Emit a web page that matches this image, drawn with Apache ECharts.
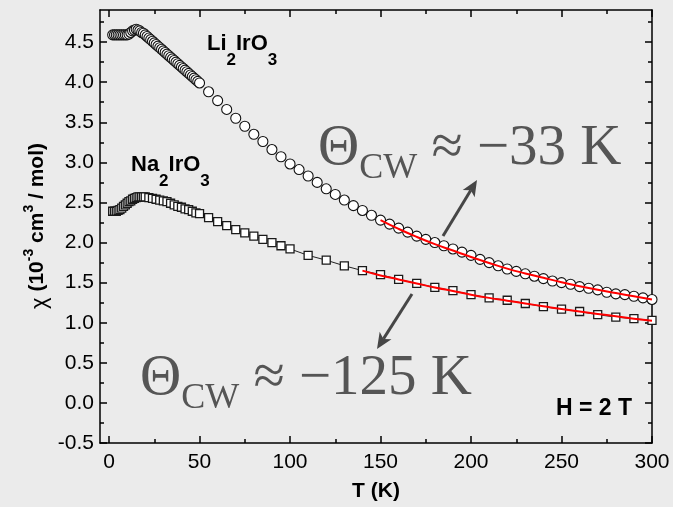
<!DOCTYPE html>
<html><head><meta charset="utf-8">
<script src="https://cdn.jsdelivr.net/npm/echarts@6/dist/echarts.min.js"></script>
<style>html,body{margin:0;padding:0;background:#ebebeb}#c{width:673px;height:507px}</style>
</head><body><div id="c"></div>
<script>
// ---- tick values ----
const xMajor = [0, 50, 100, 150, 200, 250, 300];
const xMinor = [25, 75, 125, 175, 225, 275];
const yMajor = [-0.5, 0, 0.5, 1, 1.5, 2, 2.5, 3, 3.5, 4, 4.5];
const yMinor = [-0.25, 0.25, 0.75, 1.25, 1.75, 2.25, 2.75, 3.25, 3.75, 4.25, 4.75];

// ---- Li2IrO3 (circles) ----
const liT = [2,3,4,5,6,7,8,9,10,11,12,13,14,15,16,17,18,19,20,21,22,23,24,25,26,27,28,29,30,
  31,32,33,34,35,36,37,38,39,40,41,42,43,44,45,46,47,48,49,50,
  55,60,65,70,75,80,85,90,95,100,105,110,115,120,125,130,135,140,145,150,
  155,160,165,170,175,180,185,190,195,200,205,210,215,220,225,230,235,240,245,250,
  255,260,265,270,275,280,285,290,295,300];
const liChi = [4.59,4.59,4.59,4.59,4.59,4.59,4.59,4.59,4.59,4.60,4.62,4.64,4.65,4.66,4.65,4.64,4.62,4.61,4.59,
  4.57,4.55,4.53,4.51,4.49,4.47,4.45,4.43,4.41,4.39,4.37,4.35,4.33,4.31,4.29,4.27,4.25,4.23,4.21,4.19,
  4.17,4.15,4.13,4.11,4.09,4.07,4.05,4.03,4.01,3.99,
  3.88,3.77,3.66,3.55,3.45,3.35,3.26,3.16,3.07,2.98,2.91,2.83,2.75,2.67,2.60,2.53,2.46,2.40,2.34,2.28,
  2.23,2.18,2.13,2.08,2.04,2.00,1.96,1.92,1.88,1.84,1.79,1.75,1.71,1.67,1.64,1.61,1.58,1.55,1.52,1.50,
  1.48,1.45,1.43,1.41,1.38,1.36,1.35,1.33,1.31,1.29];

// ---- Na2IrO3 (squares) ----
const naT = [2,3,4,5,6,7,8,9,10,11,12,13,14,15,16,17,18,19,20,22,24,26,28,30,32,34,36,38,40,42,44,46,48,50,
  55,60,65,70,75,80,85,90,95,100,110,120,130,140,150,160,170,180,190,200,210,220,230,240,250,260,270,280,290,300];
const naChi = [2.39,2.39,2.39,2.40,2.41,2.43,2.45,2.47,2.49,2.51,2.52,2.54,2.55,2.56,2.57,2.57,2.57,2.57,2.57,
  2.56,2.55,2.54,2.53,2.52,2.51,2.49,2.47,2.45,2.44,2.42,2.41,2.39,2.37,2.36,
  2.31,2.26,2.21,2.16,2.12,2.08,2.04,2.00,1.96,1.92,1.84,1.78,1.71,1.65,1.60,1.54,1.49,1.44,1.40,1.35,
  1.31,1.28,1.24,1.20,1.17,1.14,1.10,1.07,1.05,1.03];

// ---- Curie-Weiss fit curves (red) ----
const liFitT = [150,160,170,180,190,200,210,220,230,240,250,260,270,280,290,300];
const liFitChi = [2.28,2.17,2.07,1.98,1.90,1.82,1.745,1.675,1.615,1.56,1.505,1.455,1.41,1.37,1.33,1.29];
const naFitT = [140,150,160,170,180,190,200,210,220,230,240,250,260,270,280,290,300];
const naFitChi = [1.65,1.59,1.54,1.49,1.44,1.395,1.35,1.31,1.275,1.24,1.205,1.17,1.14,1.11,1.08,1.05,1.025];

const pairs = (a, b) => a.map((t, i) => [t, b[i]]);
const SANS = 'Liberation Sans', SERIF = 'Liberation Serif';
const BLK = '#000';

function xAx(pos, vals, len, labels, line) {
  return { type: 'value', position: pos, min: -5, max: 300,
    axisLine: { show: line, onZero: false, lineStyle: { color: BLK, width: 1.5 } },
    axisTick: { show: true, inside: true, length: len, customValues: vals, lineStyle: { color: BLK, width: 1.5 } },
    axisLabel: { show: labels, customValues: vals, color: BLK, fontSize: 21, fontFamily: SANS, margin: 9 },
    splitLine: { show: false } };
}
function yAx(pos, vals, len, labels, line) {
  return { type: 'value', position: pos, min: -0.5, max: 4.9,
    axisLine: { show: line, onZero: false, lineStyle: { color: BLK, width: 1.5 } },
    axisTick: { show: true, inside: true, length: len, customValues: vals, lineStyle: { color: BLK, width: 1.5 } },
    axisLabel: { show: labels, customValues: vals, color: BLK, fontSize: 21, fontFamily: SANS, margin: 6,
      formatter: v => v.toFixed(1) },
    splitLine: { show: false } };
}

function arrow(x1, y1, x2, y2) {
  const dx = x2 - x1, dy = y2 - y1, L = Math.hypot(dx, dy), ux = dx / L, uy = dy / L;
  const hl = 16, hw = 7;
  const bx = x2 - ux * hl, by = y2 - uy * hl;
  const col = '#464646';
  return [
    { type: 'line', shape: { x1, y1, x2: bx + ux * 4, y2: by + uy * 4 }, style: { stroke: col, lineWidth: 3 } },
    { type: 'polygon', shape: { points: [[x2, y2], [bx - uy * hw, by + ux * hw], [bx + ux * 4, by + uy * 4], [bx + uy * hw, by - ux * hw]] },
      style: { fill: col } }
  ];
}

const chemRich = {
  m: { fontSize: 22, fontWeight: 'bold', fontFamily: SANS, lineHeight: 22, verticalAlign: 'top', fill: BLK },
  s: { fontSize: 17, fontWeight: 'bold', fontFamily: SANS, lineHeight: 17, padding: [19, 0, 0, 0], verticalAlign: 'top', fill: BLK }
};
const bigRich = {
  a: { fontSize: 57, fontFamily: SERIF, lineHeight: 57, verticalAlign: 'top', fill: '#555' },
  b: { fontSize: 36, fontFamily: SERIF, lineHeight: 36, padding: [30, 0, 0, 0], verticalAlign: 'top', fill: '#555' }
};

const chart = echarts.init(document.getElementById('c'), null, { renderer: 'canvas' });
chart.setOption({
  backgroundColor: '#ebebeb',
  animation: false,
  textStyle: { fontFamily: SANS },
  grid: { left: 100, right: 21, top: 10, bottom: 64, containLabel: false },
  xAxis: [
    Object.assign(xAx('bottom', xMajor, 7, true, true), { name: 'T (K)', nameLocation: 'middle', nameGap: 38,
      nameTextStyle: { fontSize: 21, fontWeight: 'bold', color: BLK, fontFamily: SANS } }),
    xAx('bottom', xMinor, 4, false, false),
    xAx('top', xMajor, 7, false, true),
    xAx('top', xMinor, 4, false, false)
  ],
  yAxis: [
    yAx('left', yMajor, 7, true, true),
    yAx('left', yMinor, 4, false, false),
    yAx('right', yMajor, 7, false, true),
    yAx('right', yMinor, 4, false, false)
  ],
  series: [
    { name: 'Na2IrO3', type: 'line', data: pairs(naT, naChi), symbol: 'rect', symbolSize: 8, showAllSymbol: true,
      lineStyle: { color: '#222', width: 1 }, itemStyle: { color: '#fff', borderColor: '#1a1a1a', borderWidth: 1.3 } },
    { name: 'Li2IrO3', type: 'scatter', data: pairs(liT, liChi), symbol: 'circle', symbolSize: 10,
      itemStyle: { color: '#fff', borderColor: '#111', borderWidth: 1.1, opacity: 1 } },
    { name: 'Li fit', type: 'line', data: pairs(liFitT, liFitChi), smooth: true, symbol: 'none', z: 5,
      lineStyle: { color: '#ff0000', width: 2 } },
    { name: 'Na fit', type: 'line', data: pairs(naFitT, naFitChi), smooth: true, symbol: 'none', z: 5,
      lineStyle: { color: '#ff0000', width: 2 } }
  ],
  graphic: [
    { type: 'text', x: 207, y: 33, z: 10, style: { text: '{m|Li}{s|2}{m|IrO}{s|3}', rich: chemRich, align: 'left', verticalAlign: 'top' } },
    { type: 'text', x: 131, y: 154, z: 10, style: { text: '{m|Na}{s|2}{m|IrO}{s|3}', rich: chemRich, align: 'left', verticalAlign: 'top' } },
    { type: 'text', x: 318, y: 121, z: 10, style: { text: '{a|Θ}{b|CW}{a| ≈ −33 K}', rich: bigRich, align: 'left', verticalAlign: 'top' } },
    { type: 'text', x: 140, y: 351, z: 10, style: { text: '{a|Θ}{b|CW}{a| ≈ −125 K}', rich: bigRich, align: 'left', verticalAlign: 'top' } },
    { type: 'text', x: 632, y: 397, z: 10, style: { text: 'H = 2 T', fontSize: 23, fontWeight: 'bold', fontFamily: SANS, fill: BLK, align: 'right', verticalAlign: 'top' } },
    { type: 'text', x: 33, y: 226, rotation: Math.PI / 2, z: 10, style: {
      text: '{c|χ}{m| (10}{s|-3}{m| cm}{s|3}{m| / mol)}', align: 'center', verticalAlign: 'middle',
      rich: {
        c: { fontSize: 22, fontFamily: SANS, lineHeight: 22, padding: [7, 0, 0, 0], verticalAlign: 'top', fill: BLK },
        m: { fontSize: 21, fontWeight: 'bold', fontFamily: SANS, lineHeight: 22, padding: [5, 0, 0, 0], verticalAlign: 'top', fill: BLK },
        s: { fontSize: 14, fontWeight: 'bold', fontFamily: SANS, lineHeight: 14, verticalAlign: 'top', fill: BLK }
      } } },
    ...arrow(443, 236, 477, 180),
    ...arrow(412, 294, 377, 349)
  ]
});
</script></body></html>
